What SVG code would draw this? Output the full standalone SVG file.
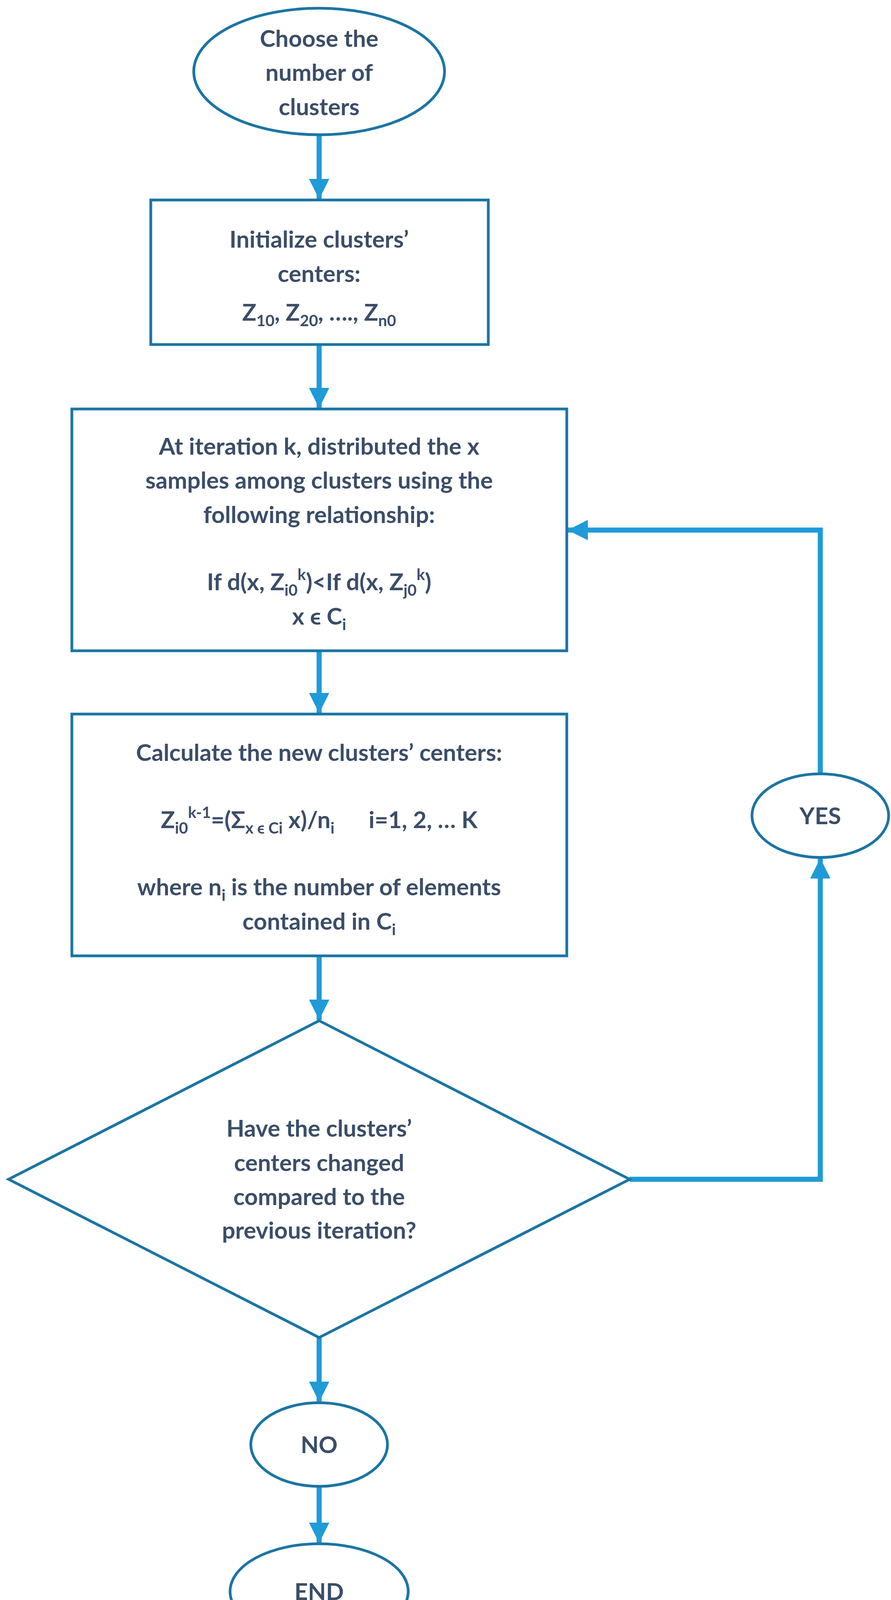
<svg xmlns="http://www.w3.org/2000/svg" width="2281" height="4215" viewBox="0 0 2281 4215">
<defs>
<style>
.n{fill:#fff;stroke:#1a75a3;stroke-width:7}
.t{font-family:Lato,"Open Sans",sans-serif;font-weight:bold;font-size:60px;fill:#3b4d68;text-anchor:middle}
.s{font-size:40px}
.c{fill:none;stroke:#1f9bd8;stroke-width:13}
</style>
<marker id="a" markerUnits="userSpaceOnUse" markerWidth="52" markerHeight="64" refX="52" refY="26" orient="auto" viewBox="0 0 52 52"><path d="M0,0L52,26L0,52Z" fill="#1f9bd8"/></marker>
</defs>
<rect width="2281" height="4215" fill="#fff"/>
<g id="connectors">
<line class="c" x1="817" y1="346" x2="817" y2="510" marker-end="url(#a)"/>
<line class="c" x1="817" y1="882" x2="817" y2="1045" marker-end="url(#a)"/>
<line class="c" x1="817" y1="1666" x2="817" y2="1826" marker-end="url(#a)"/>
<line class="c" x1="817" y1="2447" x2="817" y2="2611" marker-end="url(#a)"/>
<line class="c" x1="817" y1="3424" x2="817" y2="3589" marker-end="url(#a)"/>
<line class="c" x1="817" y1="3805" x2="817" y2="3950" marker-end="url(#a)"/>
<polyline class="c" points="1612,3019 2100,3019 2100,2197" marker-end="url(#a)"/>
<polyline class="c" points="2100,1981 2100,1357 1453,1357" marker-end="url(#a)"/>
</g>
<g id="start"><ellipse class="n" cx="817" cy="183" rx="321" ry="162"/>
<text class="t"><tspan x="817" y="120">Choose the</tspan><tspan x="817" y="207">number of</tspan><tspan x="817" y="295">clusters</tspan></text></g>
<g id="init"><rect class="n" x="386" y="512" width="864" height="370"/>
<text class="t"><tspan x="817" y="634">Initialize clusters’</tspan><tspan x="817" y="722">centers:</tspan><tspan x="817" y="821">Z<tspan class="s" dy="14">10</tspan><tspan dy="-14">, Z</tspan><tspan class="s" dy="14">20</tspan><tspan dy="-14">, …., Z</tspan><tspan class="s" dy="14">n0</tspan></tspan></text></g>
<g id="distribute"><rect class="n" x="184" y="1047" width="1267" height="619"/>
<text class="t"><tspan x="817" y="1164">At iteration k, distributed the x</tspan><tspan x="817" y="1251">samples among clusters using the</tspan><tspan x="817" y="1339">following relationship:</tspan><tspan x="817" y="1511">If d(x, Z<tspan class="s" dy="14">i0</tspan><tspan class="s" dy="-40">k</tspan><tspan dy="26">)&lt;If d(x, Z</tspan><tspan class="s" dy="14">j0</tspan><tspan class="s" dy="-40">k</tspan><tspan dy="26">)</tspan></tspan><tspan x="817" y="1599">x ϵ C<tspan class="s" dy="14">i</tspan></tspan></text></g>
<g id="calculate"><rect class="n" x="184" y="1828" width="1267" height="619"/>
<text class="t"><tspan x="817" y="1948">Calculate the new clusters’ centers:</tspan><tspan x="817" y="2120">Z<tspan class="s" dy="14">i0</tspan><tspan class="s" dy="-40">k-1</tspan><tspan dy="26">=(Σ</tspan><tspan class="s" dy="14">x ϵ Ci</tspan><tspan dy="-14"> x)/n</tspan><tspan class="s" dy="14">i</tspan><tspan dy="-14" xml:space="preserve">      i=1, 2, … K</tspan></tspan><tspan x="817" y="2292">where n<tspan class="s" dy="14">i</tspan><tspan dy="-14"> is the number of elements</tspan></tspan><tspan x="817" y="2380">contained in C<tspan class="s" dy="14">i</tspan></tspan></text></g>
<g id="decision"><polygon class="n" points="817,2613 1612,3019 817,3424 22,3019"/>
<text class="t" font-size="62"><tspan x="817" y="2910">Have the clusters’</tspan><tspan x="817" y="2998">centers changed</tspan><tspan x="817" y="3085">compared to the</tspan><tspan x="817" y="3171">previous iteration?</tspan></text></g>
<g id="yes"><ellipse class="n" cx="2100" cy="2088" rx="175" ry="107"/><text class="t" x="2100" y="2110">YES</text></g>
<g id="no"><ellipse class="n" cx="817" cy="3698" rx="175" ry="107"/><text class="t" x="817" y="3720">NO</text></g>
<g id="end"><ellipse class="n" cx="817" cy="4074" rx="228" ry="122"/><text class="t" x="817" y="4096">END</text></g>
</svg>
